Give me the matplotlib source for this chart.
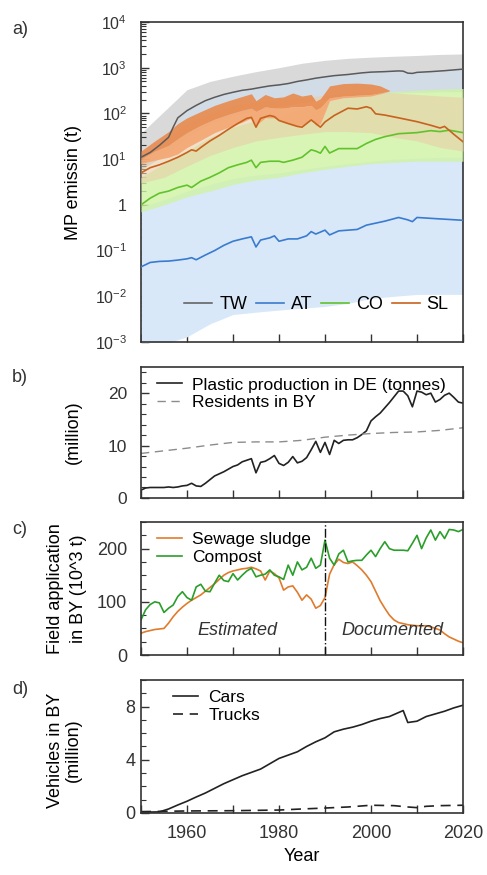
import numpy as np
import matplotlib
matplotlib.use('Agg')
import matplotlib.pyplot as plt
from matplotlib.ticker import MultipleLocator, LogLocator, FixedLocator, FixedFormatter, NullFormatter

plt.rcParams['font.family'] = ['Liberation Sans', 'DejaVu Sans']
plt.rcParams['mathtext.default'] = 'regular'
plt.rcParams['font.size'] = 13

# ---- panel a: MP emission lines (t)
tw_years = [1950, 1952, 1954, 1956, 1957, 1958, 1960, 1962, 1964, 1966, 1968, 1970, 1972, 1974,
            1976, 1978, 1980, 1982, 1984, 1986, 1988, 1990, 1992, 1995, 1998, 2000, 2003, 2006,
            2007, 2008, 2009, 2010, 2013, 2016, 2020]
tw_vals = [11, 14, 20, 30, 50, 80, 115, 150, 190, 225, 260, 290, 320, 340,
           370, 400, 420, 450, 500, 540, 590, 630, 670, 710, 770, 800, 820, 850,
           840, 760, 750, 790, 820, 860, 930]

at_years = [1950, 1952, 1954, 1956, 1958, 1960, 1961, 1962, 1964, 1966, 1968, 1970, 1972, 1974,
            1975, 1976, 1978, 1979, 1980, 1982, 1984, 1986, 1987, 1988, 1990, 1991, 1993, 1997,
            1999, 2003, 2006, 2008, 2009, 2010, 2014, 2020]
at_vals = [0.044, 0.055, 0.058, 0.059, 0.062, 0.066, 0.07, 0.063, 0.08, 0.1, 0.13, 0.16, 0.18, 0.2,
           0.12, 0.17, 0.19, 0.21, 0.16, 0.18, 0.18, 0.21, 0.26, 0.23, 0.28, 0.22, 0.27, 0.29,
           0.36, 0.44, 0.53, 0.47, 0.43, 0.53, 0.5, 0.46]

co_years = [1950, 1952, 1954, 1956, 1958, 1960, 1961, 1963, 1965, 1967, 1969, 1971, 1973, 1974,
            1975, 1976, 1978, 1980, 1981, 1983, 1985, 1987, 1988, 1989, 1990, 1991, 1993, 1995,
            1997, 1999, 2001, 2003, 2006, 2010, 2013, 2015, 2017, 2020]
co_vals = [1.0, 1.4, 1.8, 2.0, 2.4, 2.7, 2.4, 3.3, 4.0, 5.0, 6.5, 7.5, 8.5, 9.5,
           6.5, 8.5, 9.0, 9.0, 8.5, 9.5, 11, 16, 15, 13.5, 19, 13.6, 17, 17,
           17, 22, 27, 31, 36, 38, 42, 40, 43, 38]

sl_years = [1950, 1952, 1954, 1956, 1958, 1960, 1961, 1962, 1963, 1965, 1967, 1969, 1971, 1973,
            1974, 1975, 1976, 1978, 1979, 1980, 1982, 1984, 1985, 1987, 1989, 1990, 1992, 1995,
            1997, 1999, 2000, 2001, 2003, 2006, 2010, 2013, 2015, 2016, 2018, 2020]
sl_vals = [5, 6.5, 7.5, 9, 11, 14, 16, 15, 18, 25, 33, 45, 60, 78,
           82, 50, 78, 90, 85, 70, 60, 52, 50, 72, 50, 65, 90, 130,
           125, 140, 130, 98, 92, 80, 66, 55, 48, 52, 35, 24]

# ---- panel a: uncertainty bands
band_years = [1950, 1955, 1960, 1965, 1970, 1975, 1980, 1985, 1990, 1995, 2000, 2005, 2010, 2015, 2020]
tw_lo = [6, 12, 30, 60, 90, 120, 140, 170, 200, 230, 260, 280, 290, 300, 300]
tw_mid = [11, 28, 115, 210, 290, 360, 420, 520, 630, 700, 800, 830, 790, 840, 930]
tw_hi = [37, 110, 330, 500, 650, 820, 1000, 1250, 1450, 1600, 1700, 1780, 1850, 1950, 2000]
at_lo = [0.0008, 0.0009, 0.0013, 0.0025, 0.004, 0.0045, 0.005, 0.0055, 0.006, 0.007, 0.009, 0.01, 0.011, 0.011, 0.011]
at_hi = [0.9, 1.3, 2.0, 2.8, 3.8, 4.5, 5.0, 6.0, 7.0, 8.0, 9.0, 10, 10.5, 11, 11]
co_lo = [0.7, 1.0, 1.5, 2.0, 2.8, 3.5, 4.0, 5.0, 6.0, 7.0, 8.0, 8.5, 9.0, 9.0, 9.0]
co_hi = [4, 8, 15, 30, 50, 70, 90, 130, 180, 230, 270, 300, 320, 340, 350]
sl_lo = [3, 4, 7, 12, 18, 25, 30, 35, 40, 40, 38, 30, 25, 18, 15]
sl_hi = [12, 25, 60, 100, 150, 180, 200, 220, 250, 280, 290, 280, 260, 240, 225]

or_years = [1950, 1953, 1956, 1958, 1960, 1963, 1966, 1969, 1972, 1974, 1975, 1977, 1979, 1981,
            1983, 1985, 1987, 1988, 1989, 1991, 1994, 1997, 2000, 2002, 2004]
or_hi = [15, 25, 40, 60, 80, 110, 150, 190, 235, 270, 190, 260, 220, 230,
         280, 240, 260, 185, 210, 400, 450, 460, 440, 400, 320]
or_mid = [10, 15, 20, 28, 38, 55, 75, 95, 117, 130, 110, 140, 130, 130,
          140, 140, 150, 120, 135, 220, 240, 250, 260, 280, 310]
or_lo = [8, 9.5, 11, 13, 18, 26, 38, 50, 64, 80, 55, 80, 80, 65,
         55, 55, 75, 55, 60, 190, 220, 230, 240, 270, 305]

# ---- panel b
years_annual = list(range(1950, 2021))
plastic = [1.5, 1.9, 2.0, 2.0, 2.0, 2.0, 2.1, 2.0, 2.1, 2.3, 2.4, 2.8, 2.3, 2.2, 2.8, 3.5, 4.2, 4.6,
           5.0, 5.5, 6.0, 6.3, 6.9, 7.2, 7.5, 4.8, 6.8, 7.0, 7.5, 8.1, 6.6, 6.2, 6.8, 7.9, 6.7, 7.0,
           7.7, 9.2, 10.8, 8.7, 10.6, 8.3, 11.0, 10.4, 11.0, 11.1, 11.1, 11.5, 12.1, 12.8, 14.7,
           15.5, 16.2, 17.2, 18.2, 19.3, 20.4, 20.4, 19.5, 17.4, 20.4, 20.2, 19.7, 20.0, 18.3,
           18.8, 19.6, 20.0, 19.2, 18.3, 18.1]
res_years = [1950, 1955, 1960, 1965, 1970, 1975, 1980, 1985, 1990, 1995, 2000, 2005, 2010, 2015, 2020]
residents = [8.5, 9.0, 9.5, 10.1, 10.6, 10.7, 10.7, 11.0, 11.6, 12.0, 12.3, 12.5, 12.6, 12.9, 13.4]

# ---- panel c
sludge = [41, 44, 46, 48, 49, 50, 60, 72, 82, 90, 97, 103, 108, 113, 120, 127, 134, 142, 150, 155,
          158, 160, 162, 163, 165, 162, 158, 141, 158, 153, 145, 122, 128, 130, 118, 103, 113, 105,
          88, 93, 108, 152, 170, 180, 174, 172, 175, 168, 160, 150, 138, 120, 102, 88, 75, 66, 61,
          59, 57, 56, 55, 55, 55, 53, 50, 47, 40, 34, 30, 26, 23]
compost = [66, 85, 95, 100, 98, 80, 88, 94, 110, 119, 108, 103, 128, 133, 120, 119, 135, 150, 140,
           138, 153, 141, 150, 158, 163, 147, 150, 152, 160, 150, 147, 142, 169, 150, 175, 160, 165,
           182, 163, 169, 216, 182, 169, 190, 197, 175, 177, 178, 178, 188, 197, 185, 200, 213, 200,
           197, 197, 197, 196, 210, 225, 200, 220, 235, 216, 232, 219, 236, 235, 232, 236]

# ---- panel d
car_years = [1950, 1952, 1954, 1956, 1958, 1960, 1962, 1964, 1966, 1968, 1970, 1972, 1974, 1976,
             1978, 1980, 1982, 1984, 1986, 1988, 1990, 1992, 1994, 1996, 1998, 2000, 2002, 2004,
             2006, 2007, 2008, 2010, 2012, 2014, 2016, 2018, 2020]
cars = [0.07, 0.07, 0.08, 0.3, 0.6, 0.88, 1.2, 1.5, 1.85, 2.2, 2.5, 2.8, 3.05, 3.3,
        3.7, 4.1, 4.35, 4.6, 5.0, 5.35, 5.65, 6.1, 6.3, 6.45, 6.65, 6.9, 7.1, 7.25,
        7.55, 7.7, 6.8, 6.9, 7.25, 7.45, 7.65, 7.9, 8.1]
truck_years = [1950, 1960, 1970, 1980, 1985, 1990, 1995, 2000, 2005, 2008, 2010, 2012, 2015, 2020]
trucks = [0.1, 0.15, 0.17, 0.22, 0.3, 0.37, 0.45, 0.58, 0.55, 0.45, 0.4, 0.5, 0.55, 0.58]


def style_axes(ax, label_size, show_xlabels=False):
    for sp in ax.spines.values():
        sp.set_color('#333333')
        sp.set_linewidth(1.2)
    ax.set_xlim(1950, 2020)
    ax.xaxis.set_major_locator(MultipleLocator(10))
    ax.tick_params(axis='both', which='both', direction='in', top=False, right=False,
                   color='#333333', labelcolor='#333333')
    ax.tick_params(axis='both', which='major', length=6, width=1.0, pad=10)
    ax.tick_params(axis='both', which='minor', length=3.5, width=0.8)
    ax.tick_params(axis='y', labelsize=label_size)
    ax.tick_params(axis='x', which='major', pad=9, labelsize=13)
    if show_xlabels:
        ticks = list(range(1950, 2021, 10))
        ax.xaxis.set_major_locator(FixedLocator(ticks))
        ax.xaxis.set_major_formatter(FixedFormatter(
            [str(t) if t in (1960, 1980, 2000, 2020) else '' for t in ticks]))
    else:
        ax.tick_params(axis='x', labelbottom=False)


fig = plt.figure(figsize=(4.87, 8.75), dpi=100)
ax_a = fig.add_axes([0.2895, 0.6091, 0.6612, 0.3658])
ax_b = fig.add_axes([0.2895, 0.4309, 0.6612, 0.1497])
ax_c = fig.add_axes([0.2895, 0.2514, 0.6612, 0.1520])
ax_d = fig.add_axes([0.2895, 0.0709, 0.6612, 0.1520])

# panel a
ax = ax_a
ax.set_yscale('log')
ax.fill_between(band_years, tw_lo, tw_hi, color='#d9d9d9', lw=0, zorder=1)
ax.fill_between(band_years, tw_lo, tw_mid, color='#d2dce6', lw=0, zorder=1.5)
ax.fill_between(band_years, at_lo, at_hi, color='#d8e8f8', lw=0, zorder=2)
ax.fill_between(band_years, co_lo, co_hi, color='#cff3a4', alpha=0.8, lw=0, zorder=3)
ax.fill_between(band_years, sl_lo, sl_hi, color='#e8cda8', alpha=0.6, lw=0, zorder=4)
ax.fill_between(or_years, or_lo, or_mid, color='#f5a672', alpha=0.9, lw=0, zorder=5)
ax.fill_between(or_years, or_mid, or_hi, color='#e98a4e', alpha=0.9, lw=0, zorder=5)
ax.plot(tw_years, tw_vals, color='#5a5a5a', lw=1.1, label='TW', zorder=6)
ax.plot(at_years, at_vals, color='#3a7bd0', lw=1.2, label='AT', zorder=6)
ax.plot(co_years, co_vals, color='#62c22c', lw=1.2, label='CO', zorder=6)
ax.plot(sl_years, sl_vals, color='#c8621e', lw=1.2, label='SL', zorder=6)
ax.set_ylim(1e-3, 1e4)
decades = [1e-3, 1e-2, 1e-1, 1, 10, 100, 1e3, 1e4]
dec_labels = ['10$^{-3}$', '10$^{-2}$', '10$^{-1}$', '1', '10$^{1}$', '10$^{2}$', '10$^{3}$', '10$^{4}$']
ax.yaxis.set_major_locator(FixedLocator(decades))
ax.yaxis.set_major_formatter(FixedFormatter(dec_labels))
ax.yaxis.set_minor_locator(LogLocator(base=10, subs=np.arange(2, 10), numticks=20))
ax.yaxis.set_minor_formatter(NullFormatter())
style_axes(ax, 11.5)
ax.set_ylabel('MP emissin (t)')
ax.yaxis.set_label_coords(-0.183, 0.5)
ax.legend(loc='center', bbox_to_anchor=(0.545, 0.116), ncol=4, frameon=False,
          handlelength=1.55, handletextpad=0.37, columnspacing=0.5, fontsize=13)

# panel b
ax = ax_b
ax.plot(years_annual, plastic, color='#222222', lw=1.2, label='Plastic production in DE (tonnes)')
ax.plot(res_years, residents, color='#8c8c8c', lw=1.0, ls=(0, (6, 4)), label='Residents in BY')
ax.set_ylim(0, 25)
ax.yaxis.set_major_locator(FixedLocator([0, 10, 20]))
ax.yaxis.set_minor_locator(MultipleLocator(2))
style_axes(ax, 12.5)
ax.set_ylabel('(million)')
ax.yaxis.set_label_coords(-0.183, 0.5)
ax.legend(loc='upper left', bbox_to_anchor=(0.0, 1.04), frameon=False, fontsize=12.5,
          handlelength=1.45, handletextpad=0.6, labelspacing=0.15)

# panel c
ax = ax_c
ax.plot(years_annual, sludge, color='#e07b2c', lw=1.2, label='Sewage sludge')
ax.plot(years_annual, compost, color='#2a9e2a', lw=1.2, label='Compost')
ax.axvline(1990, color='#111111', lw=1.0, ls='-.')
ax.set_ylim(0, 250)
ax.yaxis.set_major_locator(FixedLocator([0, 100, 200]))
ax.yaxis.set_minor_locator(MultipleLocator(25))
style_axes(ax, 13)
ax.set_ylabel('Field application\nin BY (10^3 t)', linespacing=1.45)
ax.yaxis.set_label_coords(-0.168, 0.5)
ax.text(0.301, 0.188, 'Estimated', transform=ax.transAxes, ha='center', va='center',
        style='italic', fontsize=13, color='#333333')
ax.text(0.78, 0.188, 'Documented', transform=ax.transAxes, ha='center', va='center',
        style='italic', fontsize=13, color='#333333')
ax.legend(loc='upper left', bbox_to_anchor=(0.0, 1.04), frameon=False, fontsize=12.5,
          handlelength=1.45, handletextpad=0.6, labelspacing=0.15)

# panel d
ax = ax_d
ax.plot(car_years, cars, color='#222222', lw=1.2, label='Cars')
ax.plot(truck_years, trucks, color='#222222', lw=1.2, ls=(0, (6, 4)), label='Trucks')
ax.set_ylim(0, 10)
ax.yaxis.set_major_locator(FixedLocator([0, 4, 8]))
ax.yaxis.set_minor_locator(MultipleLocator(1))
style_axes(ax, 13, show_xlabels=True)
ax.tick_params(axis='y', which='major', pad=4)
ax.set_ylabel('Vehicles in BY\n(million)', linespacing=1.1)
ax.yaxis.set_label_coords(-0.183, 0.47)
ax.set_xlabel('Year', labelpad=4)
ax.legend(loc='upper left', bbox_to_anchor=(0.05, 1.04), frameon=False, fontsize=12.5,
          handlelength=1.45, handletextpad=0.6, labelspacing=0.15)

# panel letters
for label, ypix in [('a)', 30), ('b)', 377), ('c)', 530), ('d)', 689)]:
    fig.text(12 / 487, 1 - ypix / 875, label, ha='left', va='center', fontsize=13, color='#333333')

fig.savefig('out.png', dpi=100)
